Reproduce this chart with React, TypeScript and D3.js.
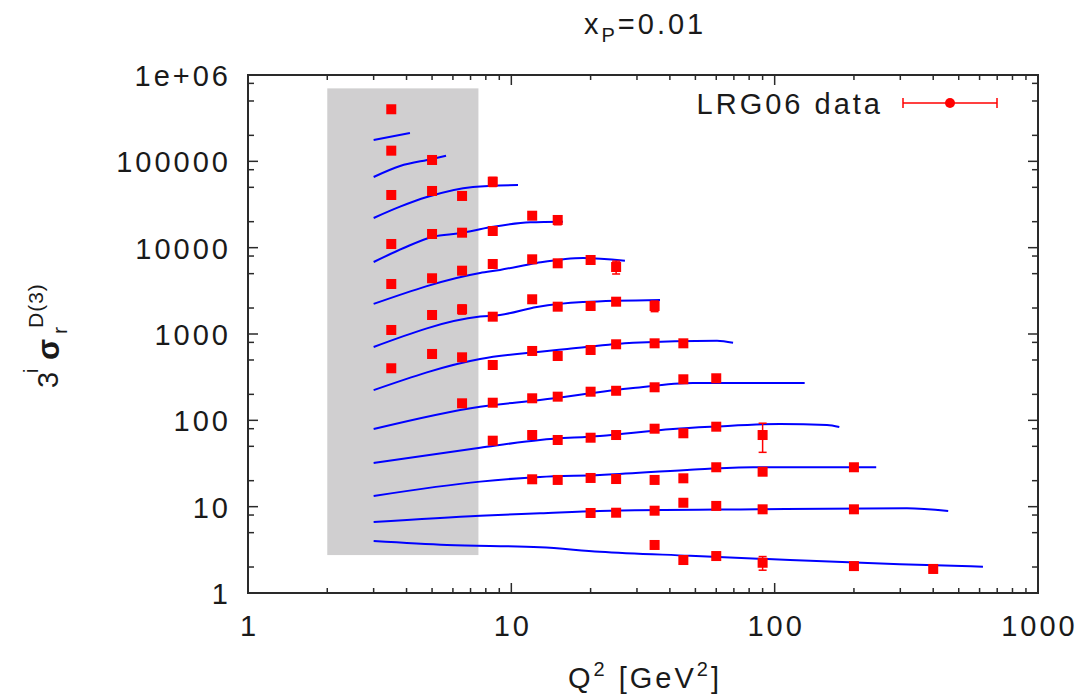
import React from "react";
import * as d3 from "d3";

// ---- axis ticks ----
const X_TICKS = [1, 10, 100, 1000];
const X_TICK_LABELS = ["1", "10", "100", "1000"];
const X_MINOR_MULT = [2, 3, 4, 5, 6, 7, 8, 9];
const Y_TICKS = [1, 10, 100, 1000, 10000, 100000, 1000000];
const Y_TICK_LABELS = ["1", "10", "100", "1000", "10000", "100000", "1e+06"];
const Y_MINOR_MULT = [2, 5, 8];

// ---- excluded (grey) region ----
const CUT_Q2 = [2, 7.5];
const CUT_SIGMA = [2.75, 700000];

// ---- LRG06 data points, per beta bin (top to bottom), values already scaled by 3^i ----
const pointQ2 = [
  [3.5],
  [3.5, 5],
  [3.5, 5, 6.5, 8.5],
  [3.5, 5, 6.5, 8.5, 12, 15],
  [3.5, 5, 6.5, 8.5, 12, 15, 20, 25],
  [3.5, 5, 6.5, 8.5, 12, 15, 20, 25, 35],
  [3.5, 5, 6.5, 8.5, 12, 15, 20, 25, 35, 45],
  [6.5, 8.5, 12, 15, 20, 25, 35, 45, 60],
  [8.5, 12, 15, 20, 25, 35, 45, 60, 90],
  [12, 15, 20, 25, 35, 45, 60, 90, 200],
  [20, 25, 35, 45, 60, 90, 200],
  [35, 45, 60, 90, 200, 400],
];
const pointSigma = [
  [401000],
  [132900, 103700],
  [40750, 45360, 39700, 58100],
  [11030, 14400, 14910, 15600, 23450, 20930],
  [3795, 4420, 5410, 6470, 7330, 6590, 7200, 5970],
  [1113, 1660, 1933, 1587, 2524, 2072, 2111, 2367, 2111],
  [401, 587, 537, 437.5, 636, 556, 653, 760, 780, 780],
  [157.5, 160, 180, 188, 214.6, 220, 241.4, 298.8, 307],
  [58.1, 67.6, 59.2, 62.9, 67.6, 80.0, 70.8, 84.4, 67.6],
  [20.75, 20.4, 21.5, 20.9, 20.4, 21.3, 28.6, 25.4, 28.6],
  [8.45, 8.51, 8.98, 11.1, 10.2, 9.32, 9.32],
  [3.6, 2.41, 2.68, 2.24, 2.05, 1.9],
];
// relative errors
const pointErr = [
  [0.08],
  [0.07, 0.09],
  [0.06, 0.1, 0.08, 0.12],
  [0.06, 0.08, 0.07, 0.07, 0.09, 0.12],
  [0.06, 0.08, 0.09, 0.06, 0.06, 0.05, 0.06, 0.17],
  [0.06, 0.08, 0.12, 0.06, 0.06, 0.05, 0.08, 0.05, 0.14],
  [0.07, 0.1, 0.06, 0.06, 0.05, 0.06, 0.05, 0.06, 0.05, 0.1],
  [0.07, 0.08, 0.09, 0.07, 0.08, 0.06, 0.07, 0.08, 0.06],
  [0.06, 0.1, 0.07, 0.05, 0.07, 0.07, 0.06, 0.05, 0.37],
  [0.09, 0.08, 0.07, 0.06, 0.07, 0.09, 0.05, 0.09, 0.06],
  [0.06, 0.08, 0.07, 0.08, 0.05, 0.07, 0.06],
  [0.08, 0.1, 0.07, 0.18, 0.06, 0.1],
];

// ---- model curves, per beta bin ----
const curveQ2 = [
  [3, 4.12],
  [3, 3.78, 5, 5.65],
  [3, 3.78, 4.78, 7.15, 10.6],
  [3, 3.88, 5.04, 6.38, 8.3, 11.8, 15.7],
  [3, 7.61, 9.06, 12.5, 18.7, 27],
  [3, 7.61, 9.06, 12.5, 18.7, 36.7],
  [3, 7.61, 12.85, 16.3, 29, 60.4, 69.5],
  [3, 7.61, 12.85, 29, 49, 130],
  [3, 7.61, 12.85, 21.7, 41.1, 58.3, 104.8, 158, 176],
  [3, 7.61, 12.85, 21.7, 46.5, 82.8, 243],
  [3, 7.61, 12.85, 21.7, 85.8, 318, 456],
  [3, 5.7, 12.85, 21.7, 47.7, 114.4, 299, 618],
];
const curveSigma = [
  [176600, 213000],
  [65900, 88300, 106400, 116200],
  [22070, 29850, 38600, 50500, 53200],
  [6820, 9840, 13400, 14700, 17200, 19700, 20000],
  [2230, 5090, 5520, 6650, 7590, 7070],
  [708, 1590, 1660, 2060, 2350, 2480],
  [224, 514, 624, 670, 793, 837, 793],
  [79.4, 144, 172, 237, 271, 271],
  [32.1, 48.2, 59.2, 65.9, 79.4, 84.4, 90.8, 88.3, 83.7],
  [13.3, 19.5, 22.1, 23.3, 26.6, 28.6, 28.6],
  [6.64, 7.86, 8.38, 8.92, 9.33, 9.58, 8.92],
  [4.0, 3.6, 3.38, 3.01, 2.7, 2.41, 2.15, 2.02],
];

const FONT = "'Liberation Sans', Arial, Helvetica, sans-serif";
const LS = 3;

export default function App() {
  const W = 1086;
  const H = 700;
  const plot = { left: 248, right: 1038, top: 75, bottom: 593 };
  const x = d3.scaleLog().domain([1, 1000]).range([plot.left, plot.right]);
  const y = d3.scaleLog().domain([1, 1e6]).range([plot.bottom, plot.top]);
  const line = d3
    .line<[number, number]>()
    .x((d) => x(d[0]))
    .y((d) => y(d[1]))
    .curve(d3.curveMonotoneX);

  const xMinor: number[] = [];
  X_TICKS.slice(0, -1).forEach((d) => X_MINOR_MULT.forEach((m) => xMinor.push(d * m)));
  const yMinor: number[] = [];
  Y_TICKS.slice(0, -1).forEach((d) => Y_MINOR_MULT.forEach((m) => yMinor.push(d * m)));

  const frameColor = "#2a2a2a";
  const textColor = "#1a1a1a";

  return (
    <svg
      width={W}
      height={H}
      style={{ position: "absolute", left: 0, top: 0, background: "#fff" }}
      fontFamily={FONT}
    >
      <rect x={0} y={0} width={W} height={H} fill="#fff" />
      {/* grey cut region */}
      <rect
        x={x(CUT_Q2[0])}
        y={y(CUT_SIGMA[1])}
        width={x(CUT_Q2[1]) - x(CUT_Q2[0])}
        height={y(CUT_SIGMA[0]) - y(CUT_SIGMA[1])}
        fill="#d0cfd0"
      />

      {/* ticks */}
      <g stroke={frameColor} strokeWidth={1.5}>
        {X_TICKS.map((t) => (
          <g key={"xt" + t}>
            <line x1={x(t)} x2={x(t)} y1={plot.bottom} y2={plot.bottom - 10} />
            <line x1={x(t)} x2={x(t)} y1={plot.top} y2={plot.top + 10} />
          </g>
        ))}
        {xMinor.map((t) => (
          <g key={"xm" + t}>
            <line x1={x(t)} x2={x(t)} y1={plot.bottom} y2={plot.bottom - 5} />
            <line x1={x(t)} x2={x(t)} y1={plot.top} y2={plot.top + 5} />
          </g>
        ))}
        {Y_TICKS.map((t) => (
          <g key={"yt" + t}>
            <line x1={plot.left} x2={plot.left + 10} y1={y(t)} y2={y(t)} />
            <line x1={plot.right} x2={plot.right - 10} y1={y(t)} y2={y(t)} />
          </g>
        ))}
        {yMinor.map((t) => (
          <g key={"ym" + t}>
            <line x1={plot.left} x2={plot.left + 6} y1={y(t)} y2={y(t)} />
            <line x1={plot.right} x2={plot.right - 6} y1={y(t)} y2={y(t)} />
          </g>
        ))}
      </g>

      {/* model curves */}
      <g fill="none" stroke="#0000ff" strokeWidth={2}>
        {curveQ2.map((qs, i) => (
          <path
            key={"c" + i}
            d={line(qs.map((q, j) => [q, curveSigma[i][j]] as [number, number])) || ""}
          />
        ))}
      </g>

      {/* data points */}
      <g fill="#ff0000" stroke="#ff0000">
        {pointQ2.map((qs, i) =>
          qs.map((q, j) => {
            const v = pointSigma[i][j];
            const e = v * pointErr[i][j];
            const cx = x(q);
            const cy = y(v);
            const yHi = y(v + e);
            const yLo = y(Math.max(v - e, 1e-3));
            return (
              <g key={"p" + i + "_" + j}>
                <line x1={cx} x2={cx} y1={yHi} y2={yLo} strokeWidth={1.5} />
                <line x1={cx - 4} x2={cx + 4} y1={yHi} y2={yHi} strokeWidth={1.5} />
                <line x1={cx - 4} x2={cx + 4} y1={yLo} y2={yLo} strokeWidth={1.5} />
                <rect x={cx - 5} y={cy - 5} width={10} height={10} stroke="none" />
              </g>
            );
          })
        )}
      </g>

      {/* frame */}
      <rect
        x={plot.left}
        y={plot.top}
        width={plot.right - plot.left}
        height={plot.bottom - plot.top}
        fill="none"
        stroke={frameColor}
        strokeWidth={2}
      />

      {/* tick labels */}
      <g fill={textColor} fontSize={29} style={{ letterSpacing: LS + "px" }}>
        {Y_TICKS.map((t, i) => (
          <text key={"yl" + t} x={plot.left - 20 + LS} y={y(t) + 11} textAnchor="end">
            {Y_TICK_LABELS[i]}
          </text>
        ))}
        {X_TICKS.map((t, i) => (
          <text key={"xl" + t} x={x(t) + LS / 2} y={636} textAnchor="middle">
            {X_TICK_LABELS[i]}
          </text>
        ))}
      </g>

      {/* title */}
      <text x={584} y={34} fontSize={29} fill={textColor} style={{ letterSpacing: LS + "px" }}>
        x
        <tspan fontSize={20} dy={8}>P</tspan>
        <tspan dy={-8}>=0.01</tspan>
      </text>

      {/* x label */}
      <text x={568} y={688} fontSize={29} fill={textColor} style={{ letterSpacing: LS + "px" }}>
        Q<tspan fontSize={20} dy={-12}>2</tspan>
        <tspan dy={12}> [GeV</tspan>
        <tspan fontSize={20} dy={-12}>2</tspan>
        <tspan dy={12}>]</tspan>
      </text>

      {/* y label */}
      <g transform="translate(58,388) rotate(-90)" fill={textColor}>
        <text x={0} y={0} fontSize={29}>3</text>
        <text x={15} y={-20} fontSize={20}>i</text>
        <text x={28} y={1} fontSize={31} fontWeight="bold">σ</text>
        <text x={54} y={9} fontSize={21}>r</text>
        <text x={60} y={-15} fontSize={21} style={{ letterSpacing: "1px" }}>D(3)</text>
      </g>

      {/* legend */}
      <text
        x={880 + LS}
        y={114}
        fontSize={29}
        fill={textColor}
        textAnchor="end"
        style={{ letterSpacing: LS + "px" }}
      >
        LRG06 data
      </text>
      <g stroke="#ff0000" strokeWidth={1.5} fill="#ff0000">
        <line x1={903} x2={997} y1={103} y2={103} />
        <line x1={903} x2={903} y1={98} y2={108} />
        <line x1={997} x2={997} y1={98} y2={108} />
        <circle cx={950} cy={103} r={5} stroke="none" />
      </g>
    </svg>
  );
}
